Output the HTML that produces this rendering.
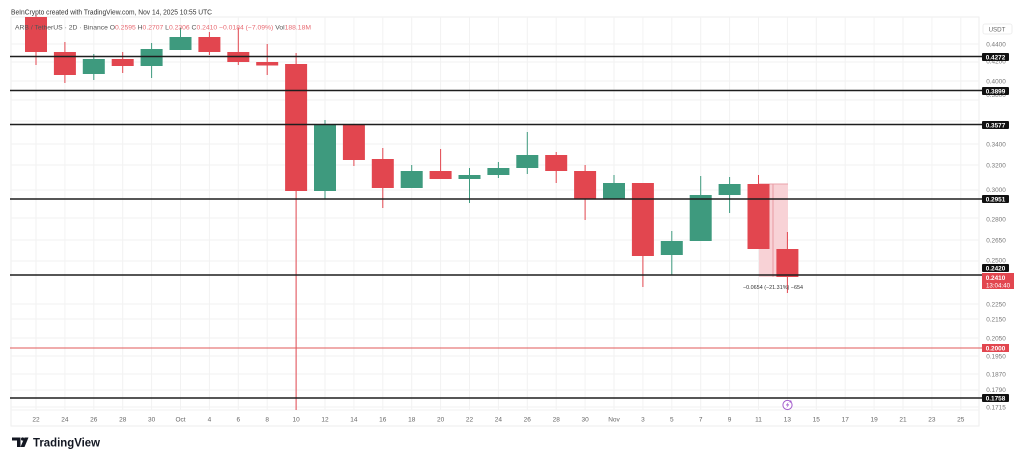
<!DOCTYPE html>
<html><head><meta charset="utf-8"><style>
html,body{margin:0;padding:0;background:#fff;}
svg{display:block;font-family:"Liberation Sans",sans-serif;}
</style></head><body>
<svg width="1024" height="452" viewBox="0 0 1024 452" xmlns="http://www.w3.org/2000/svg">
<rect width="1024" height="452" fill="#fff"/>
<!-- pane borders -->
<rect x="11" y="17" width="968" height="409" fill="none" stroke="#eeeeee" stroke-width="1"/>
<line x1="11" y1="410" x2="979" y2="410" stroke="#f1f1f1"/>
<!-- vertical grid -->
<g stroke="#f2f2f2" stroke-width="1">
<line x1="36" y1="17" x2="36" y2="410"/><line x1="64.9" y1="17" x2="64.9" y2="410"/><line x1="93.8" y1="17" x2="93.8" y2="410"/><line x1="122.7" y1="17" x2="122.7" y2="410"/><line x1="151.6" y1="17" x2="151.6" y2="410"/><line x1="180.5" y1="17" x2="180.5" y2="410"/><line x1="209.4" y1="17" x2="209.4" y2="410"/><line x1="238.3" y1="17" x2="238.3" y2="410"/><line x1="267.2" y1="17" x2="267.2" y2="410"/><line x1="296.1" y1="17" x2="296.1" y2="410"/><line x1="325" y1="17" x2="325" y2="410"/><line x1="353.9" y1="17" x2="353.9" y2="410"/><line x1="382.8" y1="17" x2="382.8" y2="410"/><line x1="411.7" y1="17" x2="411.7" y2="410"/><line x1="440.6" y1="17" x2="440.6" y2="410"/><line x1="469.5" y1="17" x2="469.5" y2="410"/><line x1="498.4" y1="17" x2="498.4" y2="410"/><line x1="527.3" y1="17" x2="527.3" y2="410"/><line x1="556.2" y1="17" x2="556.2" y2="410"/><line x1="585.1" y1="17" x2="585.1" y2="410"/><line x1="614" y1="17" x2="614" y2="410"/><line x1="642.9" y1="17" x2="642.9" y2="410"/><line x1="671.8" y1="17" x2="671.8" y2="410"/><line x1="700.7" y1="17" x2="700.7" y2="410"/><line x1="729.6" y1="17" x2="729.6" y2="410"/><line x1="758.5" y1="17" x2="758.5" y2="410"/><line x1="787.4" y1="17" x2="787.4" y2="410"/><line x1="816.3" y1="17" x2="816.3" y2="410"/><line x1="845.2" y1="17" x2="845.2" y2="410"/><line x1="874.1" y1="17" x2="874.1" y2="410"/><line x1="903" y1="17" x2="903" y2="410"/><line x1="931.9" y1="17" x2="931.9" y2="410"/><line x1="960.8" y1="17" x2="960.8" y2="410"/>
</g>
<!-- horizontal grid -->
<g stroke="#f2f2f2" stroke-width="1">
<line x1="11" y1="44" x2="979" y2="44"/><line x1="11" y1="62" x2="979" y2="62"/><line x1="11" y1="81" x2="979" y2="81"/><line x1="11" y1="100" x2="979" y2="100"/><line x1="11" y1="121" x2="979" y2="121"/><line x1="11" y1="144" x2="979" y2="144"/><line x1="11" y1="165" x2="979" y2="165"/><line x1="11" y1="190" x2="979" y2="190"/><line x1="11" y1="218" x2="979" y2="218"/><line x1="11" y1="240" x2="979" y2="240"/><line x1="11" y1="261" x2="979" y2="261"/><line x1="11" y1="304" x2="979" y2="304"/><line x1="11" y1="319" x2="979" y2="319"/><line x1="11" y1="338" x2="979" y2="338"/><line x1="11" y1="356" x2="979" y2="356"/><line x1="11" y1="374" x2="979" y2="374"/><line x1="11" y1="390" x2="979" y2="390"/><line x1="11" y1="407" x2="979" y2="407"/>
</g>

<!-- measurement rect -->
<rect x="759" y="184" width="29" height="93" fill="#f8d2d6"/>
<line x1="759" y1="184" x2="788" y2="184" stroke="#eaa3ab" stroke-width="1"/>
<line x1="773" y1="184" x2="773" y2="277" stroke="#e99aa3" stroke-width="1"/>

<!-- candles -->
<g stroke-width="1">
<!-- red -->
<g fill="#e2464f" stroke="#e2464f">
<line x1="36" y1="15" x2="36" y2="65"/><rect x="25" y="17" width="22" height="35" stroke="none"/>
<line x1="64.9" y1="42" x2="64.9" y2="83"/><rect x="53.9" y="52" width="22" height="23" stroke="none"/>
<line x1="122.7" y1="52" x2="122.7" y2="73"/><rect x="111.7" y="59" width="22" height="7" stroke="none"/>
<line x1="209.4" y1="32" x2="209.4" y2="55"/><rect x="198.4" y="37" width="22" height="15" stroke="none"/>
<line x1="238.3" y1="28" x2="238.3" y2="65"/><rect x="227.3" y="52" width="22" height="10" stroke="none"/>
<line x1="267.2" y1="44" x2="267.2" y2="75"/><rect x="256.2" y="62" width="22" height="3.5" stroke="none"/>
<line x1="296.1" y1="53" x2="296.1" y2="410"/><rect x="285.1" y="64" width="22" height="127" stroke="none"/>
<line x1="353.9" y1="124" x2="353.9" y2="166"/><rect x="342.9" y="124" width="22" height="36" stroke="none"/>
<line x1="382.8" y1="148" x2="382.8" y2="208"/><rect x="371.8" y="159" width="22" height="29" stroke="none"/>
<line x1="440.6" y1="149" x2="440.6" y2="179"/><rect x="429.6" y="171" width="22" height="8" stroke="none"/>
<line x1="556.2" y1="152" x2="556.2" y2="183"/><rect x="545.2" y="155" width="22" height="16" stroke="none"/>
<line x1="585.1" y1="165" x2="585.1" y2="220"/><rect x="574.1" y="171" width="22" height="28" stroke="none"/>
<line x1="642.9" y1="183" x2="642.9" y2="287"/><rect x="631.9" y="183" width="22" height="73" stroke="none"/>
<line x1="758.5" y1="175" x2="758.5" y2="249"/><rect x="747.5" y="184" width="22" height="65" stroke="none"/>
<line x1="787.4" y1="232" x2="787.4" y2="293"/><rect x="776.4" y="249" width="22" height="28" stroke="none"/>
</g>
<!-- green -->
<g fill="#3e9a7e" stroke="#3e9a7e">
<line x1="93.8" y1="54" x2="93.8" y2="80"/><rect x="82.8" y="59" width="22" height="15" stroke="none"/>
<line x1="151.6" y1="43" x2="151.6" y2="78"/><rect x="140.6" y="49" width="22" height="17" stroke="none"/>
<line x1="180.5" y1="28" x2="180.5" y2="50"/><rect x="169.5" y="37" width="22" height="13" stroke="none"/>
<line x1="325" y1="120" x2="325" y2="199"/><rect x="314" y="124" width="22" height="67" stroke="none"/>
<line x1="411.7" y1="165" x2="411.7" y2="188"/><rect x="400.7" y="171" width="22" height="17" stroke="none"/>
<line x1="469.5" y1="168" x2="469.5" y2="203"/><rect x="458.5" y="175" width="22" height="4" stroke="none"/>
<line x1="498.4" y1="162" x2="498.4" y2="178"/><rect x="487.4" y="168" width="22" height="7" stroke="none"/>
<line x1="527.3" y1="132" x2="527.3" y2="174"/><rect x="516.3" y="155" width="22" height="13" stroke="none"/>
<line x1="614" y1="175" x2="614" y2="199"/><rect x="603" y="183" width="22" height="16" stroke="none"/>
<line x1="671.8" y1="231" x2="671.8" y2="275"/><rect x="660.8" y="241" width="22" height="14" stroke="none"/>
<line x1="700.7" y1="176" x2="700.7" y2="241"/><rect x="689.7" y="195" width="22" height="46" stroke="none"/>
<line x1="729.6" y1="177" x2="729.6" y2="213"/><rect x="718.6" y="184" width="22" height="11" stroke="none"/>
</g>
</g>

<!-- horizontal levels -->
<g stroke="#1e1e1e" stroke-width="1.5">
<line x1="10" y1="56.5" x2="982" y2="56.5"/>
<line x1="10" y1="90.5" x2="982" y2="90.5"/>
<line x1="10" y1="124.5" x2="982" y2="124.5"/>
<line x1="10" y1="199" x2="982" y2="199"/>
<line x1="10" y1="275" x2="982" y2="275"/>
<line x1="10" y1="398" x2="982" y2="398"/>
</g>
<line x1="10" y1="348" x2="982" y2="348" stroke="#e05a5a" stroke-width="1"/>

<!-- measurement label -->
<text x="773" y="289" font-size="5.5" fill="#333" text-anchor="middle" textLength="60" lengthAdjust="spacingAndGlyphs">−0.0654 (−21.31%) −654</text>

<!-- purple icon -->
<circle cx="787.5" cy="405" r="4.6" fill="#fff" stroke="#a35ccc" stroke-width="1"/>
<path d="M788.6 401.8 L785.8 405.4 L787.6 405.4 L786.4 408.2 L789.3 404.4 L787.5 404.4 Z" fill="#a35ccc"/>
<circle cx="790.5" cy="401.5" r="1.1" fill="#a35ccc"/>

<!-- header -->
<text x="11" y="14.5" font-size="7" fill="#333" textLength="201" lengthAdjust="spacingAndGlyphs">BeInCrypto created with TradingView.com, Nov 14, 2025 10:55 UTC</text>
<text x="15" y="29.5" font-size="6.8" fill="#555" textLength="296" lengthAdjust="spacingAndGlyphs">ARB / TetherUS · 2D · Binance  O<tspan fill="#e86a72">0.2595</tspan>  H<tspan fill="#e86a72">0.2707</tspan>  L<tspan fill="#e86a72">0.2306</tspan>  C<tspan fill="#e86a72">0.2410</tspan>  <tspan fill="#e86a72">−0.0184 (−7.09%)</tspan>  Vol<tspan fill="#e86a72">188.18M</tspan></text>

<!-- right axis -->
<rect x="983" y="24" width="29" height="10" rx="2" fill="#fff" stroke="#eeeeee"/>
<text x="997" y="31.3" font-size="6.2" fill="#666" text-anchor="middle">USDT</text>
<g font-size="6.4" fill="#777" text-anchor="middle">
<text x="996" y="46.3">0.4400</text>
<text x="996" y="63.5">0.4200</text>
<text x="996" y="83.3">0.4000</text>
<text x="996" y="97">0.3800</text>
<text x="996" y="146.3">0.3400</text>
<text x="996" y="167.3">0.3200</text>
<text x="996" y="192">0.3000</text>
<text x="996" y="221.3">0.2800</text>
<text x="996" y="242.3">0.2650</text>
<text x="996" y="262.5">0.2500</text>
<text x="996" y="306.3">0.2250</text>
<text x="996" y="321.3">0.2150</text>
<text x="996" y="340.3">0.2050</text>
<text x="996" y="358.3">0.1950</text>
<text x="996" y="376.3">0.1870</text>
<text x="996" y="392">0.1790</text>
<text x="996" y="409.5">0.1715</text>
</g>
<g fill="#111">
<rect x="982" y="53" width="27" height="8" rx="1"/>
<rect x="982" y="87" width="27" height="8" rx="1"/>
<rect x="982" y="121" width="27" height="8" rx="1"/>
<rect x="982" y="195" width="27" height="8" rx="1"/>
<rect x="982" y="264" width="27" height="8" rx="1"/>
<rect x="982" y="394" width="27" height="8" rx="1"/>
</g>
<rect x="982" y="273" width="32" height="16" fill="#e2464f"/>
<rect x="982" y="344" width="27" height="8" fill="#e2464f"/>
<g font-size="6.4" fill="#fff" text-anchor="middle" font-weight="bold">
<text x="995.5" y="59.3">0.4272</text>
<text x="995.5" y="93.3">0.3899</text>
<text x="995.5" y="127.3">0.3577</text>
<text x="995.5" y="201.3">0.2951</text>
<text x="995.5" y="270.3">0.2420</text>
<text x="995.5" y="280">0.2410</text>
<text x="995.5" y="400.3">0.1758</text>
<text x="995.5" y="350.3">0.2000</text>
</g>
<text x="998" y="287.3" font-size="6.2" fill="#fff" text-anchor="middle">13:04:40</text>

<!-- x axis labels -->
<g font-size="6.5" fill="#666" text-anchor="middle">
<text x="36" y="421.5">22</text><text x="64.9" y="421.5">24</text><text x="93.8" y="421.5">26</text><text x="122.7" y="421.5">28</text><text x="151.6" y="421.5">30</text><text x="180.5" y="421.5">Oct</text><text x="209.4" y="421.5">4</text><text x="238.3" y="421.5">6</text><text x="267.2" y="421.5">8</text><text x="296.1" y="421.5">10</text><text x="325" y="421.5">12</text><text x="353.9" y="421.5">14</text><text x="382.8" y="421.5">16</text><text x="411.7" y="421.5">18</text><text x="440.6" y="421.5">20</text><text x="469.5" y="421.5">22</text><text x="498.4" y="421.5">24</text><text x="527.3" y="421.5">26</text><text x="556.2" y="421.5">28</text><text x="585.1" y="421.5">30</text><text x="614" y="421.5">Nov</text><text x="642.9" y="421.5">3</text><text x="671.8" y="421.5">5</text><text x="700.7" y="421.5">7</text><text x="729.6" y="421.5">9</text><text x="758.5" y="421.5">11</text><text x="787.4" y="421.5">13</text><text x="816.3" y="421.5">15</text><text x="845.2" y="421.5">17</text><text x="874.1" y="421.5">19</text><text x="903" y="421.5">21</text><text x="931.9" y="421.5">23</text><text x="960.8" y="421.5">25</text>
</g>

<!-- TradingView logo -->
<g fill="#131722">
<path d="M12 437.5 H20.5 V447 H17 V440.5 H12 Z"/>
<circle cx="22.6" cy="439" r="1.6"/>
<path d="M24.5 437.5 H28.5 L24.5 447 H20.5 Z"/>
</g>
<text x="33" y="446.5" font-size="11.5" font-weight="bold" fill="#131722" textLength="67" lengthAdjust="spacingAndGlyphs">TradingView</text>
</svg>
</body></html>
